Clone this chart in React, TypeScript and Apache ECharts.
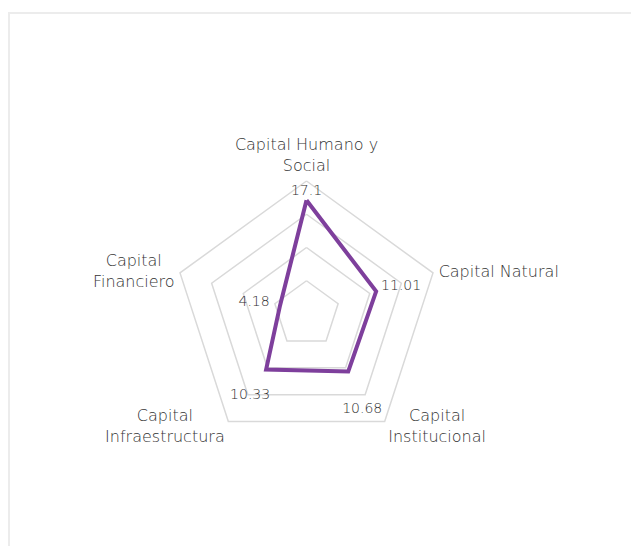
import { useEffect, useRef } from "react";
import * as echarts from "echarts";

// Indicators in ECharts' counter-clockwise order starting at the top
const indicatorNames = [
  "Capital Humano y\nSocial",
  "Capital\nFinanciero",
  "Capital\nInfraestructura",
  "Capital\nInstitucional",
  "Capital Natural",
];
const seriesValues = [17.1, 4.18, 10.33, 10.68, 11.01];
const axisMax = 20;
const ringCount = 4;

const FONT = "'DejaVu Sans', 'Open Sans', sans-serif";
const NAME_SIZE = 16;
const NAME_WEIGHT = 200;
const NAME_COLOR = "#333333";
const LINE_COLOR = "#7e3f9c";

// label offsets (px) from each vertex
const labelOffsets: number[][] = [
  [0, -10],
  [-26, -4],
  [-16, 24],
  [14, 37],
  [25, -6],
];

function measure(text: string, size: number, weight: number) {
  const c = document.createElement("canvas").getContext("2d");
  if (!c) return text.length * size * 0.55;
  c.font = `${weight} ${size}px ${FONT}`;
  return c.measureText(text).width;
}

export default function App() {
  const ref = useRef<HTMLDivElement>(null);

  useEffect(() => {
    if (!ref.current) return;
    document.body.style.overflow = "hidden";
    const chart = echarts.init(ref.current, null, { renderer: "svg" });

    const rich: Record<string, any> = {};
    indicatorNames.forEach((n, i) => {
      const w = Math.max(...n.split("\n").map((l) => measure(l, NAME_SIZE, NAME_WEIGHT)));
      rich["n" + i] = {
        width: Math.ceil(w) + 1,
        align: "center",
        fontSize: NAME_SIZE,
        fontFamily: FONT,
        fontWeight: NAME_WEIGHT,
        color: NAME_COLOR,
        lineHeight: 21,
      };
    });

    const labelSeries = seriesValues.map((v, i) => ({
      type: "radar" as const,
      silent: true,
      symbol: "circle",
      symbolSize: 1,
      itemStyle: { color: "rgba(0,0,0,0)" },
      lineStyle: { width: 0, opacity: 0 },
      label: {
        show: true,
        position: "inside",
        offset: labelOffsets[i],
        color: "#2e2e2e",
        fontSize: 14,
        fontFamily: FONT,
        fontWeight: NAME_WEIGHT,
        formatter: (p: any) => {
          const val = Array.isArray(p.value) ? NaN : Number(p.value);
          return Math.abs(val - v) < 1e-9 ? String(v) : "";
        },
      },
      data: [{ value: seriesValues }],
      z: 3,
    }));

    chart.setOption({
      animation: false,
      backgroundColor: "#ffffff",
      radar: {
        center: [296.5, 300],
        radius: 133,
        startAngle: 90,
        splitNumber: ringCount,
        shape: "polygon",
        nameGap: 5,
        indicator: indicatorNames.map((name) => ({ name, max: axisMax, min: 0 })),
        axisName: {
          color: NAME_COLOR,
          fontSize: NAME_SIZE,
          fontFamily: FONT,
          fontWeight: NAME_WEIGHT,
          lineHeight: 21,
          formatter: (name: string) => {
            const idx = indicatorNames.indexOf(name);
            return name
              .split("\n")
              .map((l) => `{n${idx}|${l}}`)
              .join("\n");
          },
          rich,
        },
        splitLine: { lineStyle: { color: "#d9d9d9", width: 1.5 } },
        splitArea: { show: false },
        axisLine: { show: false },
        axisTick: { show: false },
        axisLabel: { show: false },
      },
      series: [
        {
          type: "radar",
          symbol: "none",
          lineStyle: { color: LINE_COLOR, width: 4, join: "miter" },
          data: [{ value: seriesValues }],
          z: 2,
        },
        ...labelSeries,
      ],
    });

    return () => chart.dispose();
  }, []);

  return (
    <div style={{ paddingTop: 4 }}>
      <div
        style={{
          width: 700,
          height: 534,
          boxSizing: "border-box",
          borderTop: "2px solid #ececec",
          borderLeft: "2px solid #ececec",
          background: "#ffffff",
        }}
      >
        <div ref={ref} style={{ width: 629, height: 532 }} />
      </div>
    </div>
  );
}
